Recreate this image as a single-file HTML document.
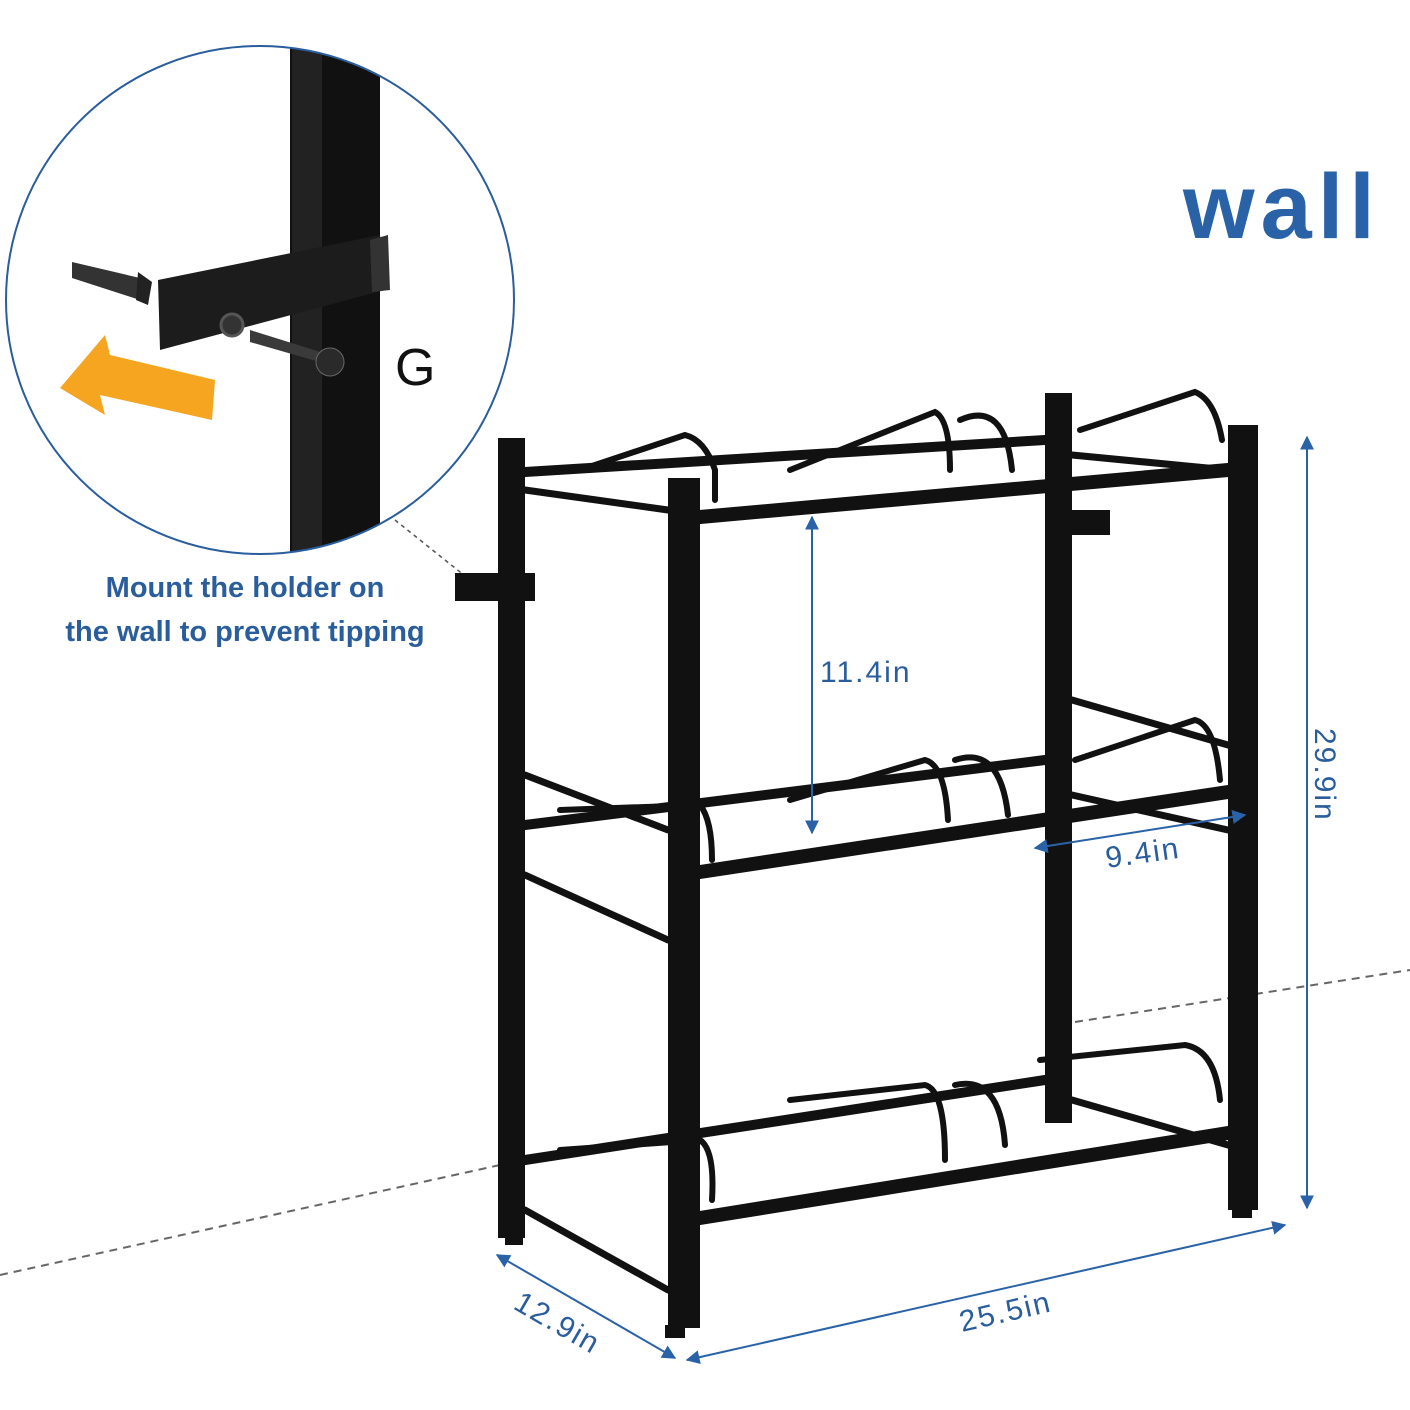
<!DOCTYPE html>
<html><head><meta charset="utf-8"><style>
html,body{margin:0;padding:0;background:#fff;}
svg{display:block;}
text{font-family:"Liberation Sans",sans-serif;}
</style></head><body>
<svg width="1410" height="1410" viewBox="0 0 1410 1410" xmlns="http://www.w3.org/2000/svg">
<defs>
<clipPath id="c"><circle cx="260" cy="300" r="254"/></clipPath>
<marker id="a" viewBox="0 0 10 10" refX="9" refY="5" markerWidth="7" markerHeight="7" orient="auto-start-reverse"><path d="M0,0L10,5L0,10z" fill="#2a62a8"/></marker>
</defs>
<rect width="1410" height="1410" fill="#fff"/>
<g clip-path="url(#c)">
<rect x="290" y="40" width="90" height="520" fill="#111"/>
<rect x="292" y="40" width="30" height="520" fill="#222"/>
<polygon points="158,280 380,235 385,290 160,350" fill="#1c1c1c"/>
<polygon points="370,240 388,235 390,290 372,292" fill="#333"/>
<circle cx="232" cy="325" r="11" fill="#333" stroke="#555" stroke-width="3"/>
<polygon points="250,330 330,355 330,365 250,342" fill="#3a3a3a"/>
<circle cx="330" cy="362" r="14" fill="#2a2a2a" stroke="#666"/>
<polygon points="72,262 140,278 140,300 72,278" fill="#333"/>
<polygon points="138,272 152,282 148,305 136,300" fill="#222"/>
<polygon points="60,388 105,335 110,355 215,380 212,420 100,395 105,415" fill="#f5a51f"/>
</g>
<circle cx="260" cy="300" r="254" fill="none" stroke="#2a5d9c" stroke-width="2"/>
<text x="395" y="385" font-size="52" fill="#111">G</text>
<text x="1183" y="238" font-size="92" font-weight="bold" fill="#2a62a8" letter-spacing="6">wall</text>
<text x="245" y="597" font-size="29" font-weight="bold" fill="#2a5d9c" text-anchor="middle">Mount the holder on</text>
<text x="245" y="641" font-size="29" font-weight="bold" fill="#2a5d9c" text-anchor="middle">the wall to prevent tipping</text>
<line x1="395" y1="520" x2="470" y2="580" stroke="#555" stroke-width="1.5" stroke-dasharray="4,4"/>
<line x1="0" y1="1275" x2="500" y2="1165" stroke="#666" stroke-width="2" stroke-dasharray="8,6"/>
<line x1="1075" y1="1022" x2="1410" y2="970" stroke="#666" stroke-width="2" stroke-dasharray="8,6"/>
<g stroke="#111" stroke-linecap="round" fill="none">
<rect x="498" y="438" width="27" height="800" fill="#111" stroke="none"/>
<rect x="1045" y="393" width="27" height="730" fill="#111" stroke="none"/>
<line x1="525" y1="472" x2="1045" y2="440" stroke-width="10"/>
<line x1="525" y1="825" x2="1045" y2="760" stroke-width="10"/>
<line x1="525" y1="1160" x2="1045" y2="1080" stroke-width="10"/>
<line x1="525" y1="490" x2="668" y2="510" stroke-width="7"/>
<line x1="525" y1="775" x2="668" y2="830" stroke-width="7"/>
<line x1="525" y1="875" x2="668" y2="940" stroke-width="7"/>
<line x1="525" y1="1210" x2="668" y2="1290" stroke-width="7"/>
<line x1="1072" y1="455" x2="1228" y2="470" stroke-width="7"/>
<line x1="1072" y1="700" x2="1228" y2="745" stroke-width="7"/>
<line x1="1072" y1="795" x2="1228" y2="830" stroke-width="7"/>
<line x1="1072" y1="1100" x2="1228" y2="1145" stroke-width="7"/>
<g stroke-width="6">
<path d="M580,470 L685,435 Q705,440 715,470 L715,500"/>
<path d="M790,470 L935,412 Q950,420 950,470"/>
<path d="M960,420 Q1005,400 1012,470"/>
<path d="M1080,430 L1195,392 Q1215,400 1222,440"/>
<path d="M560,810 L700,805 Q712,820 712,860"/>
<path d="M790,800 L925,760 Q945,765 948,820"/>
<path d="M955,760 Q1000,745 1008,815"/>
<path d="M1075,760 L1195,720 Q1215,725 1220,780"/>
<path d="M560,1150 L700,1140 Q715,1150 712,1200"/>
<path d="M790,1100 L925,1085 Q945,1090 945,1160"/>
<path d="M955,1085 Q1000,1075 1005,1145"/>
<path d="M1040,1060 L1185,1045 Q1215,1050 1220,1100"/>
</g>
<line x1="700" y1="517" x2="1228" y2="470" stroke-width="14"/>
<line x1="700" y1="872" x2="1228" y2="792" stroke-width="14"/>
<line x1="700" y1="1218" x2="1228" y2="1133" stroke-width="14"/>
<rect x="668" y="478" width="32" height="850" fill="#111" stroke="none"/>
<rect x="1228" y="425" width="30" height="785" fill="#111" stroke="none"/>
<rect x="665" y="1325" width="20" height="13" fill="#111" stroke="none"/>
<rect x="505" y="1235" width="18" height="10" fill="#111" stroke="none"/>
<rect x="1232" y="1208" width="20" height="10" fill="#111" stroke="none"/>
<rect x="455" y="573" width="80" height="28" fill="#111" stroke="none"/>
<rect x="1045" y="510" width="65" height="25" fill="#111" stroke="none"/>
</g>
<g stroke="#2a62a8" stroke-width="2" fill="none">
<line x1="1307" y1="437" x2="1307" y2="1208" marker-start="url(#a)" marker-end="url(#a)"/>
<line x1="812" y1="517" x2="812" y2="833" marker-start="url(#a)" marker-end="url(#a)"/>
<line x1="1035" y1="848" x2="1245" y2="815" marker-start="url(#a)" marker-end="url(#a)"/>
<line x1="497" y1="1255" x2="675" y2="1358" marker-start="url(#a)" marker-end="url(#a)"/>
<line x1="687" y1="1360" x2="1285" y2="1225" marker-start="url(#a)" marker-end="url(#a)"/>
</g>
<g fill="#2a5d9c" font-size="30" letter-spacing="2">
<text x="820" y="682">11.4in</text>
<text x="1107" y="868" transform="rotate(-8 1107 868)">9.4in</text>
<text transform="translate(1315,728) rotate(90)">29.9in</text>
<text transform="translate(512,1308) rotate(30)">12.9in</text>
<text transform="translate(962,1332) rotate(-13)">25.5in</text>
</g>
</svg>
</body></html>
